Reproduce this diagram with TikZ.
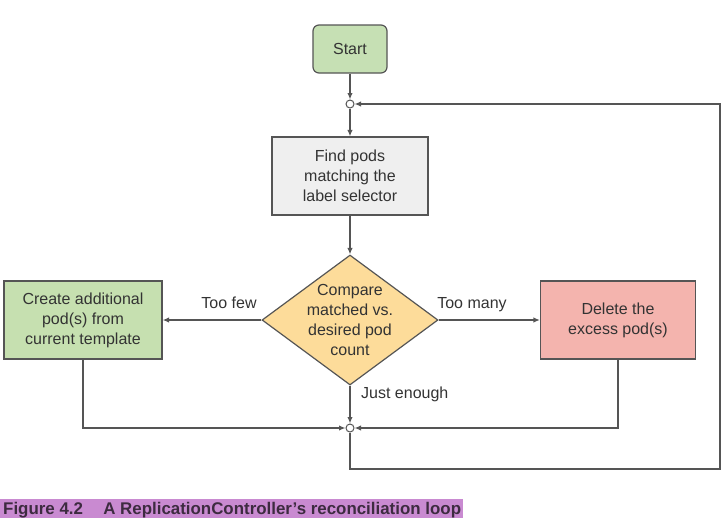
\documentclass[tikz,border=0pt]{standalone}
\usepackage{fontspec}
\setmainfont{Liberation Sans}
\usetikzlibrary{shapes.geometric,arrows.meta}
\definecolor{linec}{HTML}{555555}
\definecolor{startc}{HTML}{C6E0B4}
\definecolor{createc}{HTML}{C6E0B0}
\definecolor{findc}{HTML}{EFEFEF}
\definecolor{diamc}{HTML}{FDDC9A}
\definecolor{delc}{HTML}{F4B4AE}
\definecolor{capc}{HTML}{C98AD1}
\definecolor{captext}{HTML}{3D2B40}
\definecolor{txt}{HTML}{333333}
\tikzset{
  box/.style={draw=linec, line width=1.2pt, align=center, text=txt, inner sep=0pt,
    font=\fontsize{16}{20}\selectfont},
  junc/.style={circle, draw=linec, fill=white, line width=1pt, minimum size=8pt, inner sep=0pt},
  conn/.style={draw=linec, line width=1.3pt, -{Latex[length=6.5pt,width=5.5pt]}},
  lbl/.style={text=txt, font=\fontsize{16}{20}\selectfont, inner sep=0pt}
}
\begin{document}
\begin{tikzpicture}[x=1pt,y=-1pt]
\useasboundingbox (0,0) rectangle (727,523);
\node[box, fill=startc, rounded corners=6pt, minimum width=74pt, minimum height=48pt] (start) at (350,49) {Start};
\node[junc] (j1) at (350,104) {};
\node[box, fill=findc, minimum width=156pt, minimum height=78pt] (find) at (350,176) {Find pods\\matching the\\label selector};
\node[box, diamond, fill=diamc, inner sep=-12pt, minimum width=176pt, minimum height=130pt, aspect=1.354] (cmp) at (350,320) {Compare\\matched vs.\\desired pod\\count};
\node[box, fill=createc, minimum width=158pt, minimum height=78pt] (create) at (83,320) {Create additional\\pod(s) from\\current template};
\node[box, fill=delc, minimum width=155pt, minimum height=78pt] (del) at (618,320) {Delete the\\excess pod(s)};
\node[junc] (j2) at (350,428) {};
\coordinate (cl) at (83,428);
\coordinate (dl) at (618,428);
\coordinate (b1) at (350,469);
\coordinate (b2) at (720,469);
\coordinate (b3) at (720,104);

\draw[conn] (start) -- (j1);
\draw[conn] (j1) -- (find);
\draw[conn] (find) -- (cmp);
\draw[conn] (cmp.west) -- (create.east);
\draw[conn] (cmp.east) -- (del.west);
\draw[conn] (cmp.south) -- (j2);
\draw[conn] (create.south) -- (cl) -- (j2);
\draw[conn] (del.south) -- (dl) -- (j2);
\draw[conn] (j2) -- (b1) -- (b2) -- (b3) -- (j1);

\node[lbl, anchor=base] (tf) at (229,308) {Too few};
\node[lbl, anchor=base] (tm) at (472,308) {Too many};
\node[lbl, anchor=base west] (je) at (361,398) {Just enough};

\fill[capc] (0,499) rectangle (463,518);
\node[anchor=base west, inner sep=0pt, text=captext, font=\fontsize{16.9}{18}\selectfont\bfseries] (cap) at (3,514) {Figure 4.2\hspace{1.2em}A ReplicationController’s reconciliation loop};
\end{tikzpicture}
\end{document}
